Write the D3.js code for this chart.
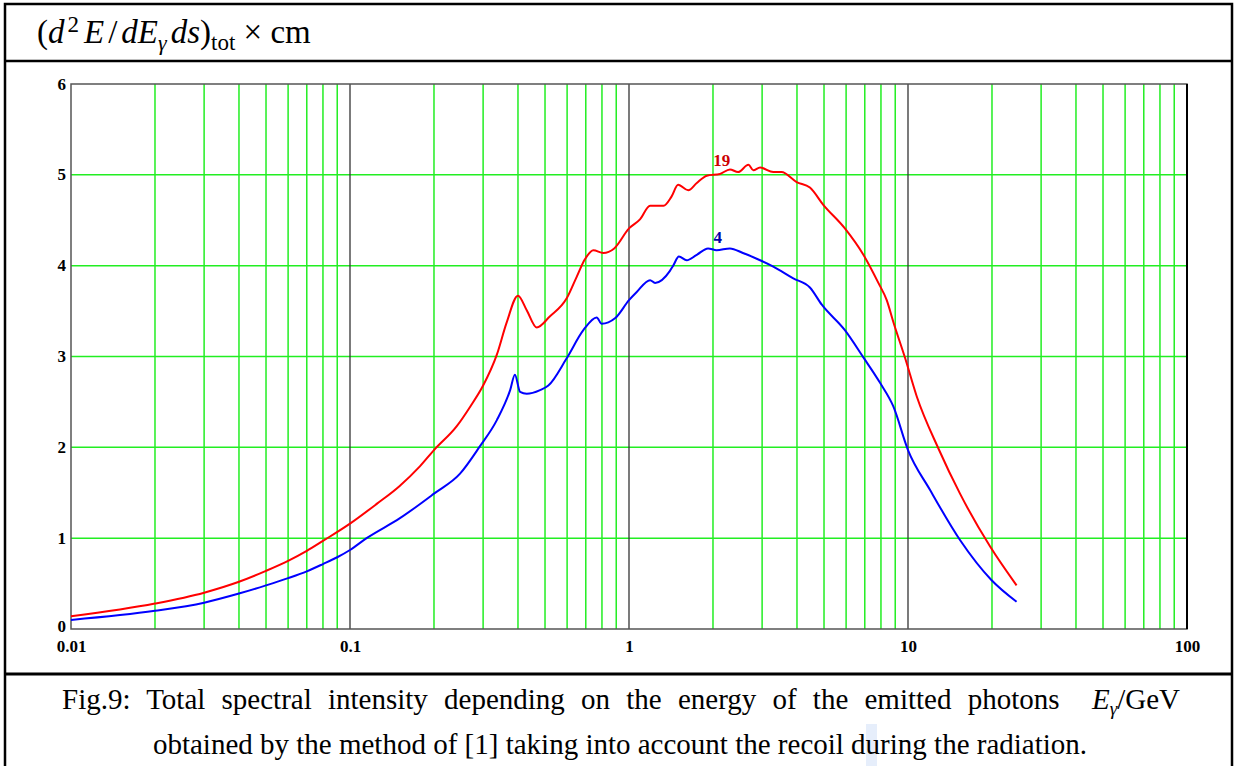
<!DOCTYPE html>
<html lang="en">
<head>
    <meta charset="UTF-8">
    <title>Fig.9</title>
    <script src="https://cdnjs.cloudflare.com/ajax/libs/d3/7.8.5/d3.min.js"></script>
    <style>
        body { margin: 0; background: #fff; }
        svg { display: block; }
    </style>
</head>
<body>
    <svg width="1235" height="766"></svg>
    <script>
        "use strict";

        // curve "19" (red)
        const redX = [0.01, 0.02, 0.03, 0.04, 0.05, 0.06, 0.07, 0.08, 0.1, 0.125, 0.15, 0.178, 0.2, 0.241, 0.27, 0.3, 0.336, 0.364, 0.40, 0.43, 0.467, 0.52, 0.598, 0.65, 0.695, 0.745, 0.809, 0.885, 1.0, 1.095, 1.19, 1.33, 1.42, 1.5, 1.63, 1.75, 1.9, 2.12, 2.3, 2.46, 2.68, 2.79, 2.95, 3.29, 3.52, 3.99, 4.45, 4.97, 5.94, 6.92, 7.83, 8.39, 8.86, 9.77, 10.75, 12.84, 15.36, 19.67, 24.5];
        const redY = [0.14, 0.28, 0.40, 0.52, 0.64, 0.75, 0.86, 0.97, 1.16, 1.38, 1.57, 1.79, 1.97, 2.23, 2.45, 2.68, 3.02, 3.37, 3.67, 3.51, 3.32, 3.44, 3.64, 3.88, 4.07, 4.17, 4.14, 4.19, 4.41, 4.51, 4.66, 4.66, 4.76, 4.89, 4.83, 4.91, 4.99, 5.01, 5.06, 5.03, 5.11, 5.05, 5.08, 5.03, 5.03, 4.92, 4.86, 4.67, 4.41, 4.12, 3.81, 3.62, 3.38, 2.98, 2.56, 1.99, 1.49, 0.91, 0.48];

        // curve "4" (blue)
        const blueX = [0.01, 0.02, 0.03, 0.04, 0.05, 0.06, 0.07, 0.08, 0.09, 0.1, 0.1147, 0.151, 0.2, 0.248, 0.292, 0.336, 0.375, 0.39, 0.407, 0.43, 0.48, 0.514, 0.598, 0.686, 0.766, 0.798, 0.891, 1.0, 1.066, 1.19, 1.24, 1.4, 1.44, 1.51, 1.61, 1.75, 1.92, 2.06, 2.3, 2.56, 2.95, 3.29, 3.88, 4.45, 4.91, 5.94, 6.92, 7.94, 8.86, 10.0, 12.0, 15.36, 19.9, 24.5];
        const blueY = [0.10, 0.20, 0.29, 0.39, 0.48, 0.56, 0.635, 0.715, 0.79, 0.87, 1.0, 1.22, 1.49, 1.71, 2.01, 2.30, 2.63, 2.80, 2.61, 2.59, 2.63, 2.68, 2.98, 3.29, 3.43, 3.36, 3.42, 3.62, 3.71, 3.84, 3.81, 3.94, 4.0, 4.10, 4.06, 4.12, 4.19, 4.17, 4.19, 4.14, 4.06, 3.99, 3.86, 3.76, 3.57, 3.29, 2.99, 2.71, 2.45, 1.97, 1.53, 0.98, 0.54, 0.30];

        const xTicks = [0.01, 0.1, 1, 10, 100];
        const xTickLabels = ["0.01", "0.1", "1", "10", "100"];
        const yTicks = [0, 1, 2, 3, 4, 5, 6];
        const curveLabels = [
            { text: "19", x: 2.15, y: 5.1, color: "#cc0000" },
            { text: "4", x: 2.08, y: 4.25, color: "#0000aa" }
        ];

        const serif = "'Liberation Serif', 'Times New Roman', serif";
        const svg = d3.select("svg");

        // page frame
        const frame = svg.append("g").attr("fill", "none").attr("stroke", "#000");
        frame.append("rect").attr("x", 5).attr("y", 4).attr("width", 1227).attr("height", 780).attr("stroke-width", 2.5);
        frame.append("line").attr("x1", 5).attr("x2", 1232).attr("y1", 61).attr("y2", 61).attr("stroke-width", 2.5);
        frame.append("line").attr("x1", 5).attr("x2", 1232).attr("y1", 674).attr("y2", 674).attr("stroke-width", 3);

        // header formula
        const head = svg.append("text")
            .attr("x", 37).attr("y", 43)
            .attr("font-family", serif)
            .style("font-size", "33px");
        head.append("tspan").text("(");
        head.append("tspan").attr("font-style", "italic").text("d");
        head.append("tspan").style("font-size", "23px").attr("dx", 3).attr("dy", -11).text("2");
        head.append("tspan").attr("font-style", "italic").attr("dx", 5).attr("dy", 11).text("E");
        head.append("tspan").attr("dx", 4).text("/");
        head.append("tspan").attr("font-style", "italic").attr("dx", 4).text("dE");
        head.append("tspan").attr("font-style", "italic").style("font-size", "22px").attr("dy", 7).text("γ");
        head.append("tspan").attr("font-style", "italic").attr("dx", 4).attr("dy", -7).text("ds");
        head.append("tspan").text(")");
        head.append("tspan").style("font-size", "23px").attr("dy", 7).text("tot");
        head.append("tspan").attr("dy", -7).text(" × cm");

        // plot
        const x = d3.scaleLog().domain([0.01, 100]).range([71, 1187]);
        const y = d3.scaleLinear().domain([0, 6]).range([629, 84]);

        const minor = [];
        for (const dec of [0.01, 0.1, 1, 10]) {
            for (let k = 2; k <= 9; k++) minor.push(dec * k);
        }

        const grid = svg.append("g");
        grid.selectAll(".vminor").data(minor).enter().append("line")
            .attr("x1", d => x(d)).attr("x2", d => x(d))
            .attr("y1", y(6)).attr("y2", y(0))
            .attr("stroke", "#22ee22").attr("stroke-width", 1.5);
        grid.selectAll(".hgrid").data(yTicks.filter(d => d > 0 && d < 6)).enter().append("line")
            .attr("x1", x(0.01)).attr("x2", x(100))
            .attr("y1", d => y(d)).attr("y2", d => y(d))
            .attr("stroke", "#22ee22").attr("stroke-width", 1.5);
        grid.selectAll(".vmajor").data([0.1, 1, 10]).enter().append("line")
            .attr("x1", d => x(d)).attr("x2", d => x(d))
            .attr("y1", y(6)).attr("y2", y(0))
            .attr("stroke", "#333").attr("stroke-width", 1.3);

        // plot box
        svg.append("rect")
            .attr("x", x(0.01)).attr("y", y(6))
            .attr("width", x(100) - x(0.01)).attr("height", y(0) - y(6))
            .attr("fill", "none").attr("stroke", "#555").attr("stroke-width", 1.5);
        svg.append("line")
            .attr("x1", x(100)).attr("x2", x(100)).attr("y1", y(6)).attr("y2", y(0))
            .attr("stroke", "#000").attr("stroke-width", 2);

        // axes (labels only)
        const xAxis = svg.append("g").attr("transform", `translate(0,${y(0)})`)
            .call(d3.axisBottom(x).tickValues(xTicks).tickFormat((d, i) => xTickLabels[i]).tickSize(0).tickPadding(11));
        const yAxis = svg.append("g").attr("transform", `translate(${x(0.01)},0)`)
            .call(d3.axisLeft(y).tickValues(yTicks).tickFormat(d3.format("d")).tickSize(0).tickPadding(5));
        for (const ax of [xAxis, yAxis]) {
            ax.select(".domain").remove();
            ax.selectAll("text")
                .style("font-family", serif)
                .style("font-size", "17px")
                .style("font-weight", "bold")
                .attr("fill", "#000");
        }
        yAxis.selectAll("text").attr("dy", d => d === 0 ? "0.15em" : "0.3em");

        // curves
        const line = d3.line()
            .x(d => x(d[0]))
            .y(d => y(d[1]))
            .curve(d3.curveMonotoneX);

        svg.append("path")
            .datum(d3.zip(redX, redY))
            .attr("d", line)
            .attr("fill", "none").attr("stroke", "#ff0000").attr("stroke-width", 2);
        svg.append("path")
            .datum(d3.zip(blueX, blueY))
            .attr("d", line)
            .attr("fill", "none").attr("stroke", "#0000ff").attr("stroke-width", 2);

        svg.selectAll(".clabel").data(curveLabels).enter().append("text")
            .attr("x", d => x(d.x)).attr("y", d => y(d.y))
            .attr("text-anchor", "middle")
            .attr("font-family", serif)
            .style("font-weight", "bold").style("font-size", "17px")
            .attr("fill", d => d.color)
            .text(d => d.text);

        // caption
        svg.append("rect").attr("x", 866).attr("y", 724).attr("width", 11).attr("height", 42).attr("fill", "#e6eefb");

        // first line is justified across the page, like the source document
        const cap1 = svg.append("text")
            .attr("x", 62).attr("y", 709)
            .attr("font-family", serif)
            .style("font-size", "29px");
        cap1.append("tspan").text("Fig.9: Total spectral intensity depending on the energy of the emitted photons\u00a0 ");
        cap1.append("tspan").attr("font-style", "italic").text("E");
        cap1.append("tspan").attr("font-style", "italic").style("font-size", "19px").attr("dy", 6).text("γ");
        cap1.append("tspan").attr("dy", -6).text("/GeV");
        const natural = cap1.node().getComputedTextLength();
        cap1.attr("word-spacing", 1);
        const perUnit = Math.max(1, cap1.node().getComputedTextLength() - natural);
        cap1.attr("word-spacing", Math.max(0, (1118 - natural) / perUnit));

        svg.append("text")
            .attr("x", 620).attr("y", 754).attr("text-anchor", "middle")
            .attr("font-family", serif)
            .style("font-size", "29px")
            .text("obtained by the method of [1] taking into account the recoil during the radiation.");
    </script>
</body>
</html>
